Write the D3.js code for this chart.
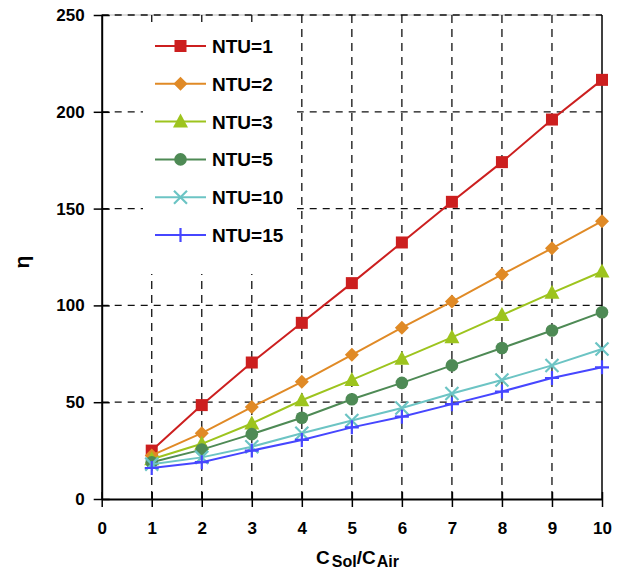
<!DOCTYPE html>
<html><head><meta charset="utf-8">
<script src="https://cdn.jsdelivr.net/npm/d3@7"></script>
<style>body{margin:0;background:#fff}svg{display:block;font-family:"Liberation Sans",Arial,sans-serif}</style>
</head><body>
<svg id="c" width="627" height="575"></svg>
<script>
const xValues = [1,2,3,4,5,6,7,8,9,10];
const seriesNames = ["NTU=1","NTU=2","NTU=3","NTU=5","NTU=10","NTU=15"];
const ntu1  = [25, 48.5, 70.5, 91, 111.5, 132.5, 153.5, 174, 196, 216.5];
const ntu2  = [22.5, 34, 47.5, 60.5, 74.5, 88.5, 102, 116, 129.5, 143.5];
const ntu3  = [20.5, 28.5, 39, 51, 61.5, 72.5, 83.5, 95, 106.5, 117.5];
const ntu5  = [19, 25.5, 33.5, 42, 51.5, 60, 69, 78, 87, 96.5];
const ntu10 = [18, 21.5, 27, 34, 40.5, 47, 54.5, 61.5, 69, 77.5];
const ntu15 = [16, 19, 25, 30.5, 37, 42.5, 49, 55.5, 62.5, 68];
const xTicks = [0,1,2,3,4,5,6,7,8,9,10];
const yTicks = [0,50,100,150,200,250];

const colors = ["#cc1f1f","#e08a26","#9dc41e","#4e8a55","#6cc4c4","#4646ff"];
const shapes = ["square","diamond","triangle","circle","x","plus"];
const allSeries = [ntu1, ntu2, ntu3, ntu5, ntu10, ntu15];

const svg = d3.select("#c");
const L = 101.7, R = 602, T = 15, B = 499;
const x = d3.scaleLinear().domain([0,10]).range([L,R]);
const y = d3.scaleLinear().domain([0,250]).range([B,T]);

// gridlines
const grid = svg.append("g");
grid.append("line").attr("x1",L).attr("x2",R).attr("y1",T).attr("y2",T).attr("stroke","#bbb").attr("stroke-width",1);
yTicks.filter(d=>d>0).forEach(d=>{
  grid.append("line").attr("x1",L).attr("x2",R).attr("y1",y(d)).attr("y2",y(d))
    .attr("stroke","#111").attr("stroke-width",1.3).attr("stroke-dasharray","7,6");
});
xTicks.filter(d=>d>0 && d<10).forEach(d=>{
  grid.append("line").attr("x1",x(d)).attr("x2",x(d)).attr("y1",T).attr("y2",B)
    .attr("stroke","#111").attr("stroke-width",1.3).attr("stroke-dasharray","8,6");
});

// legend background
svg.append("rect").attr("x",143).attr("y",22).attr("width",154).attr("height",252).attr("fill","#fff");

// frame: right border
svg.append("line").attr("x1",R).attr("x2",R).attr("y1",T).attr("y2",B).attr("stroke","#000").attr("stroke-width",1.5);

// axes
const yAxis = d3.axisLeft(y).tickValues(yTicks).tickSize(0).tickPadding(17);
const gy = svg.append("g").attr("transform",`translate(${L},0)`).call(yAxis);
gy.select(".domain").attr("stroke","#000").attr("stroke-width",2);
gy.selectAll(".tick line").attr("x1",-8).attr("x2",8).attr("stroke","#000").attr("stroke-width",1.5);
gy.selectAll(".tick text").attr("font-size",17).attr("font-weight","bold").attr("fill","#000").attr("font-family","Liberation Sans, Arial, sans-serif");

const xAxis = d3.axisBottom(x).tickValues(xTicks).tickSize(0).tickPadding(23);
const gx = svg.append("g").attr("transform",`translate(0,${B})`).call(xAxis);
gx.select(".domain").attr("stroke","#000").attr("stroke-width",2);
gx.selectAll(".tick line").attr("y1",-7).attr("y2",8).attr("stroke","#000").attr("stroke-width",1.5);
gx.selectAll(".tick text").attr("font-size",17).attr("font-weight","bold").attr("fill","#000").attr("font-family","Liberation Sans, Arial, sans-serif");

// markers
function marker(g, shape, color, cx, cy){
  if(shape==="square"){
    g.append("rect").attr("x",cx-6).attr("y",cy-6).attr("width",12).attr("height",12).attr("fill",color);
  } else if(shape==="diamond"){
    g.append("path").attr("d",`M${cx},${cy-7}L${cx+7},${cy}L${cx},${cy+7}L${cx-7},${cy}Z`).attr("fill",color);
  } else if(shape==="triangle"){
    g.append("path").attr("d",`M${cx},${cy-8}L${cx+7.5},${cy+6}L${cx-7.5},${cy+6}Z`).attr("fill",color);
  } else if(shape==="circle"){
    g.append("circle").attr("cx",cx).attr("cy",cy).attr("r",6.3).attr("fill",color);
  } else if(shape==="x"){
    g.append("path").attr("d",`M${cx-6.5},${cy-6.5}L${cx+6.5},${cy+6.5}M${cx-6.5},${cy+6.5}L${cx+6.5},${cy-6.5}`)
      .attr("stroke",color).attr("stroke-width",2.2);
  } else if(shape==="plus"){
    g.append("path").attr("d",`M${cx-7},${cy}L${cx+7},${cy}M${cx},${cy-7}L${cx},${cy+7}`)
      .attr("stroke",color).attr("stroke-width",2.2);
  }
}

// series
const line = d3.line().x((d,i)=>x(xValues[i])).y(d=>y(d));
allSeries.forEach((s,k)=>{
  const g = svg.append("g");
  g.append("path").datum(s).attr("d",line).attr("fill","none").attr("stroke",colors[k]).attr("stroke-width",2);
  s.forEach((v,i)=>marker(g, shapes[k], colors[k], x(xValues[i]), y(v)));
});

// legend
const lg = svg.append("g");
seriesNames.forEach((n,k)=>{
  const ly = 46 + k*37.8;
  lg.append("line").attr("x1",155).attr("x2",206).attr("y1",ly).attr("y2",ly).attr("stroke",colors[k]).attr("stroke-width",2);
  marker(lg, shapes[k], colors[k], 180.5, ly);
  lg.append("text").attr("x",212).attr("y",ly+7).attr("font-size",19).attr("font-weight","bold").attr("fill","#000").text(n);
});

// axis titles
const xt = svg.append("text").attr("x",316).attr("y",564).attr("font-size",19).attr("font-weight","bold").attr("fill","#000");
xt.append("tspan").text("C");
xt.append("tspan").attr("font-size",16).attr("dy",3).attr("dx",2).text("Sol");
xt.append("tspan").attr("dy",-3).text("/C");
xt.append("tspan").attr("font-size",16).attr("dy",3).attr("dx",1).text("Air");

svg.append("text").attr("transform","translate(29,262) rotate(-90)").attr("text-anchor","middle")
  .attr("font-size",21).attr("font-weight","bold").attr("fill","#000").text("η");
</script>
</body></html>
